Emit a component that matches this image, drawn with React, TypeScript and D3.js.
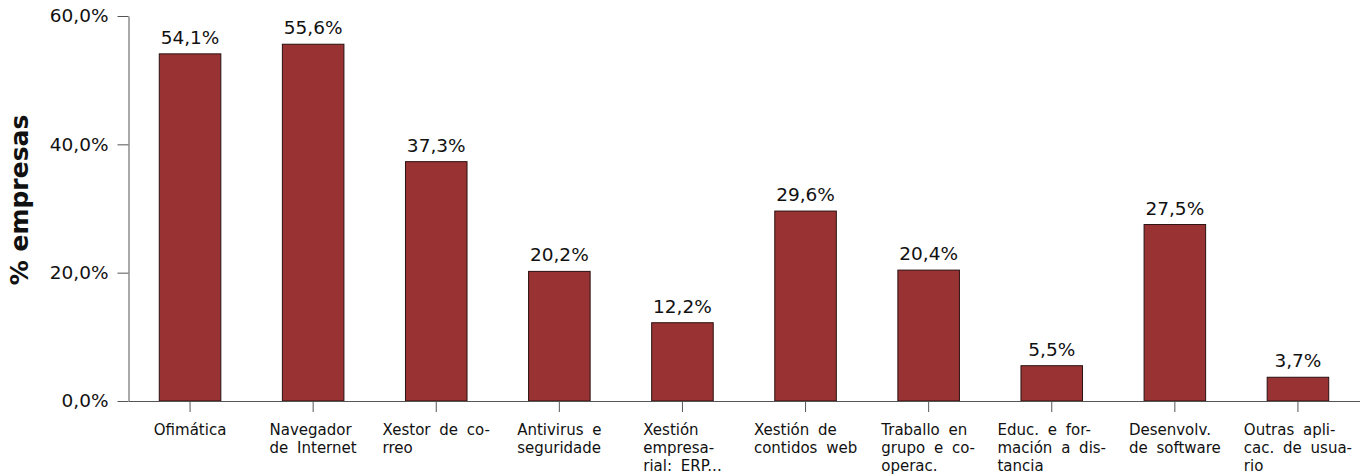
import React, { useEffect, useRef } from "react";
import * as d3 from "d3";

const categories: string[][] = [
  ["Ofimática"],
  ["Navegador", "de Internet"],
  ["Xestor de co-", "rreo"],
  ["Antivirus e", "seguridade"],
  ["Xestión", "empresa-", "rial: ERP..."],
  ["Xestión de", "contidos web"],
  ["Traballo en", "grupo e co-", "operac."],
  ["Educ. e for-", "mación a dis-", "tancia"],
  ["Desenvolv.", "de software"],
  ["Outras apli-", "cac. de usua-", "rio"],
];
const values: number[] = [54.1, 55.6, 37.3, 20.2, 12.2, 29.6, 20.4, 5.5, 27.5, 3.7];
const yTicks: number[] = [0, 20, 40, 60];
const yTitle = "% empresas";

const fmt = (v: number) => v.toFixed(1).replace(".", ",") + "%";

export default function App() {
  const ref = useRef<SVGSVGElement>(null);
  useEffect(() => {
    const svg = d3.select(ref.current);
    svg.selectAll("*").remove();
    const left = 128.5, right = 1359.5, top = 16, bottom = 401;
    const font = "'DejaVu Sans', sans-serif";
    const idx = categories.map((_, i) => i);
    const x = d3.scaleBand<number>().domain(idx).range([left, right]).paddingInner(0.5).paddingOuter(0.25);
    const y = d3.scaleLinear().domain([0, 60]).range([bottom, top]);

    // bars
    svg.append("g").selectAll("rect").data(values).join("rect")
      .attr("x", (_, i) => x(i)!)
      .attr("y", d => y(d))
      .attr("width", x.bandwidth())
      .attr("height", d => y(0) - y(d))
      .attr("fill", "#993333")
      .attr("stroke", "#2a1010")
      .attr("stroke-width", 1);

    // value labels
    svg.append("g").selectAll("text").data(values).join("text")
      .attr("x", (_, i) => x(i)! + x.bandwidth() / 2)
      .attr("y", d => y(d) - 10)
      .attr("text-anchor", "middle")
      .attr("font-family", font)
      .attr("font-size", 18.5)
      .attr("fill", "#111")
      .text(d => fmt(d));

    // y axis
    const ya = svg.append("g").attr("transform", `translate(${left},0)`)
      .call(d3.axisLeft(y).tickValues(yTicks).tickSize(11).tickPadding(9).tickFormat(d => fmt(d as number)).tickSizeOuter(0));
    ya.selectAll("path,line").attr("stroke", "#555");
    ya.selectAll("text").attr("font-family", font).attr("font-size", 18.5).attr("fill", "#111");

    // x axis
    const xa = svg.append("g").attr("transform", `translate(0,${bottom})`)
      .call(d3.axisBottom(x).tickSize(11).tickSizeOuter(0).tickFormat(() => ""));
    xa.selectAll("path,line").attr("stroke", "#555");
    xa.selectAll(".tick text").remove();

    // x labels: block centered, lines left aligned
    const lg = svg.append("g").attr("font-family", font).attr("font-size", 15)
      .attr("word-spacing", 4).attr("fill", "#111");
    categories.forEach((lines, i) => {
      const cx = x(i)! + x.bandwidth() / 2;
      const t = lg.append("text").attr("y", bottom + 34);
      lines.forEach((ln, j) => {
        t.append("tspan").attr("x", 0).attr("dy", j === 0 ? 0 : 18).text(ln);
      });
      const bb = (t.node() as SVGTextElement).getBBox();
      t.attr("transform", `translate(${cx - bb.width / 2},0)`);
    });

    // y title
    svg.append("text")
      .attr("transform", `translate(28,200) rotate(-90)`)
      .attr("text-anchor", "middle")
      .attr("font-family", font)
      .attr("font-size", 25)
      .attr("font-weight", "bold")
      .attr("fill", "#111")
      .text(yTitle);
  }, []);
  return <svg ref={ref} width={1366} height={474} style={{ position: "absolute", left: 0, top: 0 }} />;
}
